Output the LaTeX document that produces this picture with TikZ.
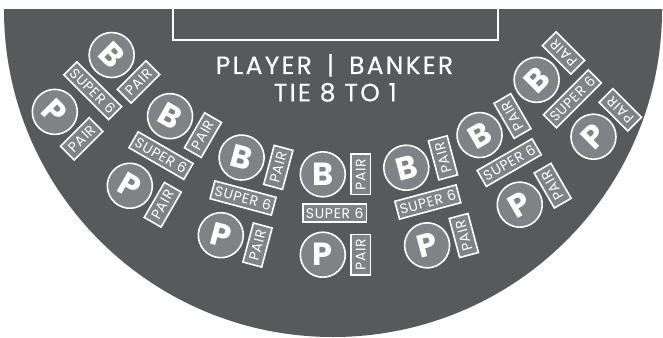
\documentclass[tikz,border=0pt]{standalone}
\usepackage{fontspec}
\setmainfont{Poppins}
\newfontfamily\spacedfont[LetterSpace=9,FakeBold=0.4]{Poppins}
\newfontfamily\labelfont[LetterSpace=5]{Poppins}
\definecolor{felt}{HTML}{58595B}
\definecolor{chipgray}{HTML}{808285}
\tikzset{
  chip/.style={circle, draw=white, line width=1.6pt, fill=chipgray, minimum size=45pt, inner sep=0pt, text=white, font=\bfseries\fontsize{32}{32}\selectfont},
  betbox/.style={rectangle, draw=white, line width=1.6pt, fill=chipgray, inner sep=0pt, text=white, font=\labelfont\fontsize{14}{14}\selectfont},
  superbox/.style={betbox, minimum width=63.4pt, minimum height=18.4pt},
  pairbox/.style={betbox, rotate=90, minimum width=40.4pt, minimum height=19.4pt},
  titletext/.style={text=white, inner sep=0pt, anchor=base, font=\spacedfont\fontsize{25}{25}\selectfont}
}
\newcommand\betgroup[4]{%
  \begin{scope}[shift={(#2,#3)}, rotate=#4, y=1pt, transform shape]
    \node[chip] (#1B) at (-11.9,38.7) {B};
    \node[chip] (#1P) at (-11.9,-41.7) {P};
    \node[superbox] (#1S) at (0,0) {SUPER 6};
    \node[pairbox] (#1BP) at (26.1,38.7) {PAIR};
    \node[pairbox] (#1PP) at (26.1,-41.7) {PAIR};
  \end{scope}}
\begin{document}
\begin{tikzpicture}[x=1pt,y=-1pt]
\useasboundingbox (0,0) rectangle (663,337);
\begin{scope}
  \clip (0,10) rectangle (663,340);
  \fill[felt] (333,10) ellipse [x radius=329pt, y radius=327pt];
\end{scope}
\draw[white, line width=2pt] (172.7,9) -- (172.7,40.3) -- (497.7,40.3) -- (497.7,9);
\node[titletext] (title1) at (334.5,74) {PLAYER\hspace{15pt}|\hspace{15pt}BANKER};
\node[titletext] (title2) at (335.3,101.3) {TIE 8 TO 1};
\betgroup{ga}{92.7}{90.8}{-45}
\betgroup{gb}{161}{155.6}{-30}
\betgroup{gc}{243.1}{198}{-15}
\betgroup{gd}{334.7}{213}{0}
\betgroup{ge}{427.8}{202}{15}
\betgroup{gf}{509.2}{162.6}{30}
\betgroup{gg}{572.4}{98.8}{45}
\end{tikzpicture}
\end{document}
